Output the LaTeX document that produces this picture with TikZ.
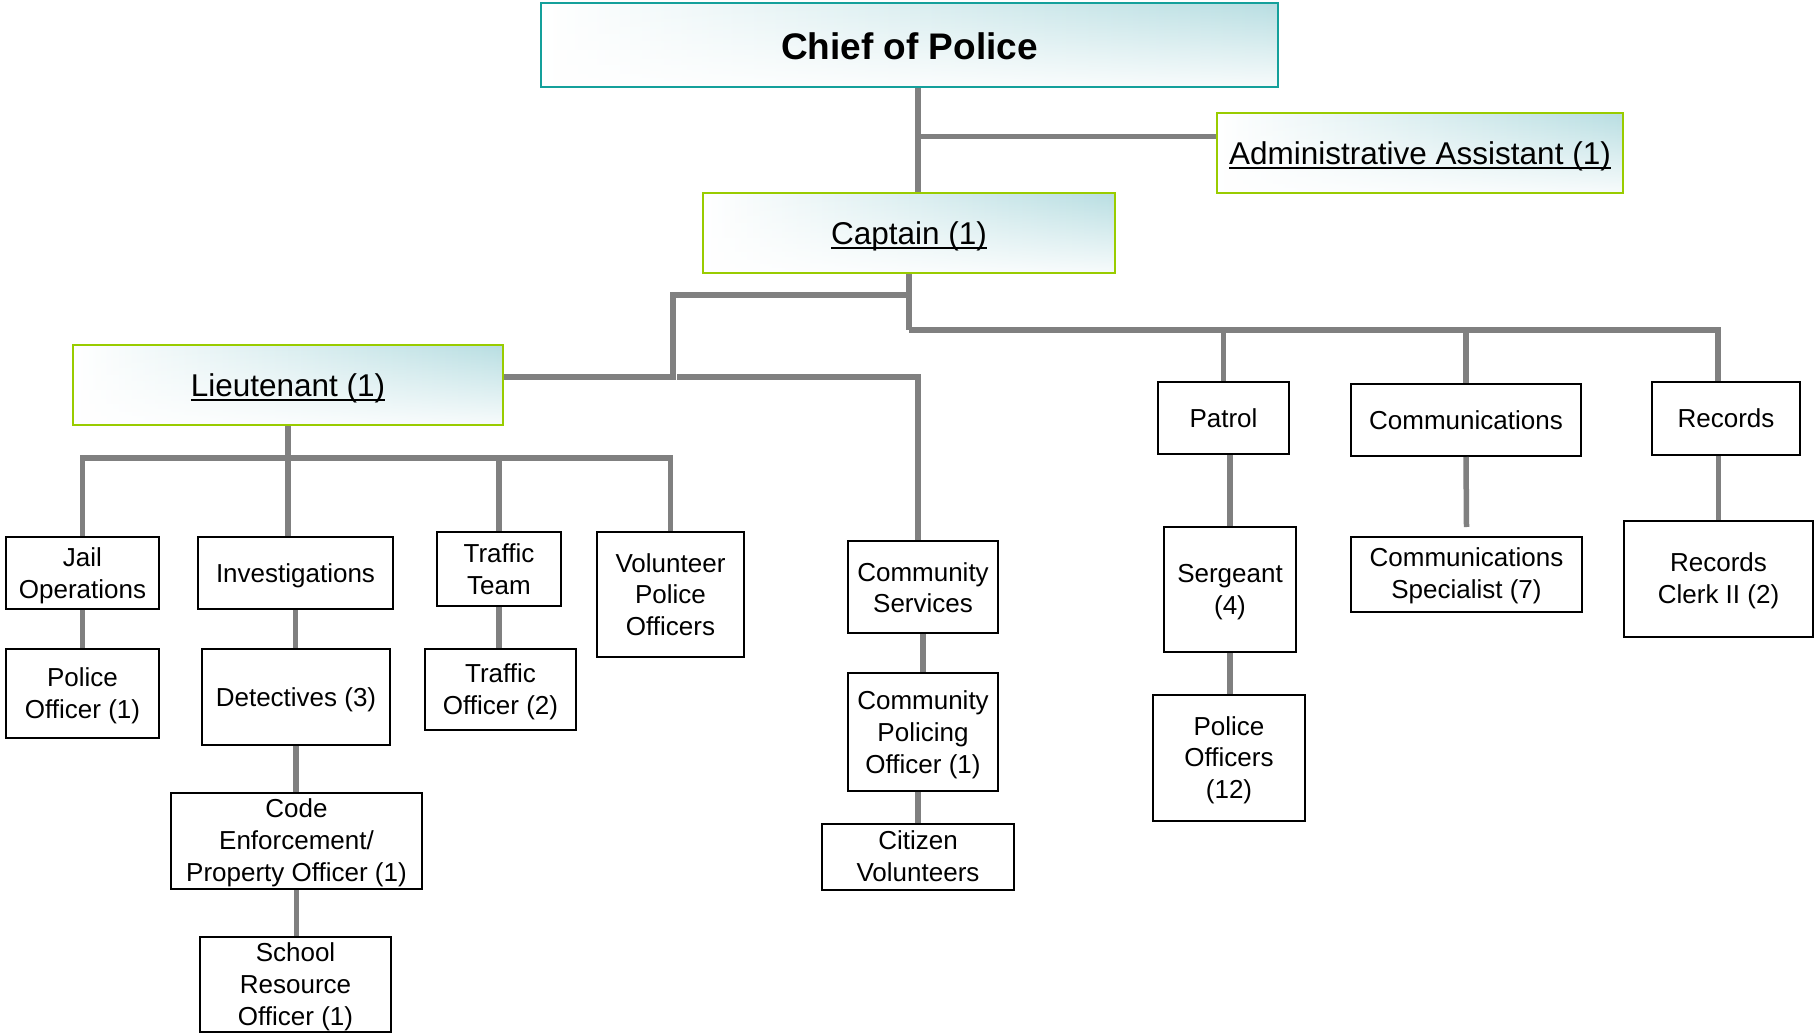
\documentclass[tikz,border=0pt]{standalone}
\usepackage{fontspec}
\setmainfont{Liberation Sans}
\usetikzlibrary{fadings}
\definecolor{tealB}{RGB}{20,160,155}
\definecolor{grnB}{RGB}{153,204,0}
\definecolor{tealL}{RGB}{184,222,226}
\definecolor{connC}{RGB}{128,128,128}
\newcommand{\tx}[2][3]{\raisebox{-#1pt}[\height][\depth]{\begin{tabular}{@{}c@{}}#2\end{tabular}}}
\newcommand{\ulx}[1]{\setbox0=\hbox{#1}\rlap{\rule[-4.5pt]{\wd0}{2.6pt}}\box0}
\begin{document}
\begin{tikzpicture}[x=1pt,y=-1pt,
  box/.style={draw=black, line width=2pt, inner sep=0pt, align=center, font=\fontsize{26}{31.7}\selectfont},
  grad/.style={path picture={
     \shade[left color=white, right color=tealL] (path picture bounding box.south west) rectangle (path picture bounding box.north east);
     \fill[white, path fading=north, opacity=0.9] (path picture bounding box.south west) rectangle (path picture bounding box.north east);}},
  headbox/.style={grad, inner sep=0pt, align=center, line width=2.5pt, draw=grnB, font=\fontsize{31.5}{38}\selectfont},
  conn/.style={draw=connC, line width=5.5pt},
]
\useasboundingbox (0,0) rectangle (1814,1035);

% head boxes
\node[headbox, draw=tealB, minimum width=737pt, minimum height=84pt, font=\fontsize{37}{44}\bfseries] (chief) at (909.5,45) {\tx[5.5]{Chief of Police}};
\node[headbox, minimum width=406pt, minimum height=80pt] (admin) at (1420,153) {\tx[4.4]{\ulx{Administrative Assistant (1)}}};
\node[headbox, minimum width=412pt, minimum height=80pt] (captain) at (909,233) {\tx[4.4]{\ulx{Captain (1)}}};
\node[headbox, minimum width=430pt, minimum height=80pt] (lieut) at (288,385) {\tx[4.2]{\ulx{Lieutenant (1)}}};

% lieutenant branch
\node[box, minimum width=153pt, minimum height=72pt] (jail) at (82.5,573) {\tx{Jail\\Operations}};
\node[box, minimum width=153pt, minimum height=89pt] (po1) at (82.5,693.5) {\tx{Police\\Officer (1)}};
\node[box, minimum width=195pt, minimum height=72pt] (invest) at (295.5,573) {\tx[3.6]{Investigations}};
\node[box, minimum width=188pt, minimum height=96pt] (detect) at (296,697) {\tx{Detectives (3)}};
\node[box, minimum width=251pt, minimum height=96pt] (code) at (296.5,841) {\tx[2.2]{Code\\Enforcement/\\Property Officer (1)}};
\node[box, minimum width=191pt, minimum height=95pt] (school) at (295.5,984.5) {\tx[2.5]{School\\Resource\\Officer (1)}};
\node[box, minimum width=124pt, minimum height=74pt] (tteam) at (499,569) {\tx{Traffic\\Team}};
\node[box, minimum width=151pt, minimum height=81pt] (tofficer) at (500.5,689.5) {\tx{Traffic\\Officer (2)}};
\node[box, minimum width=147pt, minimum height=125pt] (volunteer) at (670.5,594.5) {\tx{Volunteer\\Police\\Officers}};

% community
\node[box, minimum width=150pt, minimum height=92pt] (commserv) at (923,587) {\tx[3.8]{Community\\Services}};
\node[box, minimum width=150pt, minimum height=118pt] (cpo) at (923,732) {\tx{Community\\Policing\\Officer (1)}};
\node[box, minimum width=192pt, minimum height=66pt] (citizen) at (918,857) {\tx[2.5]{Citizen\\Volunteers}};

% captain right branch
\node[box, minimum width=131pt, minimum height=72pt] (patrol) at (1223.5,418) {\tx{Patrol}};
\node[box, minimum width=132pt, minimum height=125pt] (sergeant) at (1230,589.5) {\tx{Sergeant\\(4)}};
\node[box, minimum width=152pt, minimum height=126pt] (po12) at (1229,758) {\tx[2.5]{Police\\Officers\\(12)}};
\node[box, minimum width=230pt, minimum height=72pt] (comm) at (1466,420) {\tx{Communications}};
\node[box, minimum width=231pt, minimum height=75pt] (spec) at (1466.5,574.5) {\tx[2]{Communications\\Specialist (7)}};
\node[box, minimum width=148pt, minimum height=73pt] (records) at (1726,418.5) {\tx[2.5]{Records}};
\node[box, minimum width=189pt, minimum height=116pt] (clerk) at (1718.5,579) {\tx[2.3]{Records\\Clerk II (2)}};

% connectors
\coordinate (t) at (918,136.5);
\draw[conn] (chief.south -| t) -- (captain.north -| t);
\draw[conn] (t) -- (admin.west |- t);

\coordinate (lsplit) at (673,295);
\coordinate (lmid) at (673,377);
\coordinate (rbus) at (909,330);
\coordinate (rend) at (1718,330);
\draw[conn] (captain.south) -- (captain.south |- rbus);
\draw[conn, line join=miter] (captain.south |- lsplit) -- (lsplit) -- (lmid) -- (lieut.east |- lmid);
\draw[conn, line join=miter] (captain.south |- rbus) -- (rend) -- (rend |- records.north);
\draw[conn] (patrol.north |- rbus) -- (patrol.north);
\draw[conn] (comm.north |- rbus) -- (comm.north);

\coordinate (cm) at (677,377);
\coordinate (cx) at (918,377);
\draw[conn, line join=miter] (cm) -- (cx) -- (cx |- commserv.north);
\draw[conn] (commserv.south) -- (cpo.north);
\draw[conn] (citizen.north |- cpo.south) -- (citizen.north);

\coordinate (lbus) at (0,458);
\draw[conn, line join=miter] (jail.north) -- (jail.north |- lbus) -- (volunteer.north |- lbus) -- (volunteer.north);
\draw[conn] (tteam.north |- lbus) -- (tteam.north);
\draw[conn] (lieut.south) -- (lieut.south |- invest.north);
\draw[conn] (jail.south) -- (po1.north);
\draw[conn] (invest.south) -- (invest.south |- detect.north);
\draw[conn] (detect.south) -- (detect.south |- code.north);
\draw[conn] (code.south) -- (code.south |- school.north);
\draw[conn] (tteam.south) -- (tteam.south |- tofficer.north);

\draw[conn] (sergeant.north |- patrol.south) -- (sergeant.north);
\draw[conn] (sergeant.south) -- (sergeant.south |- po12.north);
\draw[conn] (comm.south) -- ([yshift=9pt]spec.north);
\draw[conn] (clerk.north |- records.south) -- (clerk.north);
\end{tikzpicture}
\end{document}
